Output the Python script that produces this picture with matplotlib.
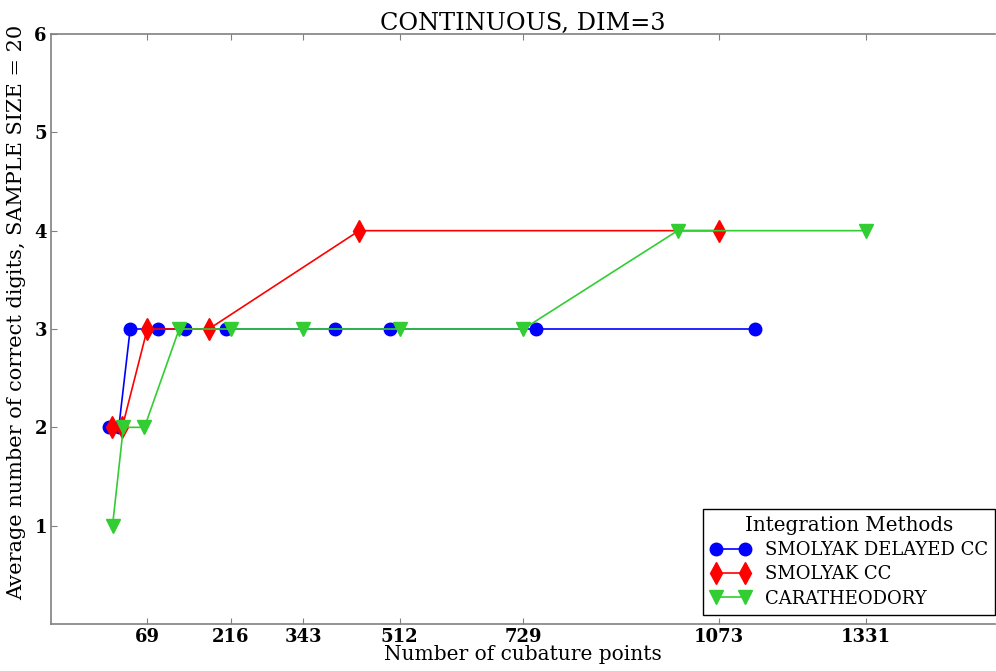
import matplotlib
matplotlib.use('Agg')
import matplotlib.pyplot as plt

# Numero de pontos de cubatura e digitos corretos
x_delayed = [1, 19, 39, 87, 135, 207, 399, 495, 751, 1135]
y_delayed = [2, 2, 3, 3, 3, 3, 3, 3, 3, 3]

x_cc = [7, 25, 69, 177, 441, 1073]
y_cc = [2, 2, 3, 3, 4, 4]

x_cara = [8, 27, 64, 125, 216, 343, 512, 729, 1000, 1331]
y_cara = [1, 2, 2, 3, 3, 3, 3, 3, 4, 4]

xticks = [69, 216, 343, 512, 729, 1073, 1331]
yticks = [1, 2, 3, 4, 5, 6]

plt.rcParams['font.family'] = 'DejaVu Serif'

fig = plt.figure(figsize=(9.96, 6.71), dpi=100)
ax = fig.add_axes([51/996, 1-624/671, (995-51)/996, (624-34)/671])

ax.plot(x_delayed, y_delayed, color='#0000ff', marker='o', markersize=9,
        lw=1.2, label='SMOLYAK DELAYED CC')
ax.plot(x_cc, y_cc, color='#ff0000', marker='d', markersize=11,
        lw=1.2, label='SMOLYAK CC')
ax.plot(x_cara, y_cara, color='#32cd32', marker='v', markersize=10,
        lw=1.2, label='CARATHEODORY')

ax.set_xlim(-100, 1557)
ax.set_ylim(0, 6)
ax.set_xticks(xticks)
ax.set_yticks(yticks)
for lbl in ax.get_xticklabels() + ax.get_yticklabels():
    lbl.set_fontweight('bold')
    lbl.set_fontsize(13)

ax.tick_params(direction='in', length=4, width=0.8, color='#808080',
               top=True, right=False, pad=3)
for s in ['left', 'bottom', 'top']:
    ax.spines[s].set_color('#808080')
    ax.spines[s].set_linewidth(1.2)
ax.spines['right'].set_visible(False)

ax.set_title('CONTINUOUS, DIM=3', fontsize=17.3, pad=3)
ax.set_xlabel('Number of cubature points', fontsize=14.5, labelpad=-1)
ax.set_ylabel('Average number of correct digits, SAMPLE SIZE = 20',
              fontsize=15)
ax.yaxis.set_label_coords(-0.026, 0.529)

leg = ax.legend(loc='lower right', bbox_to_anchor=(1.0, 9/590),
                numpoints=2, title='Integration Methods',
                fontsize=13, title_fontsize=14.3, fancybox=False,
                edgecolor='k', framealpha=1, borderaxespad=0,
                handlelength=2.2, labelspacing=0.35)
leg.get_frame().set_linewidth(1.0)

fig.savefig('out.png', dpi=100)
